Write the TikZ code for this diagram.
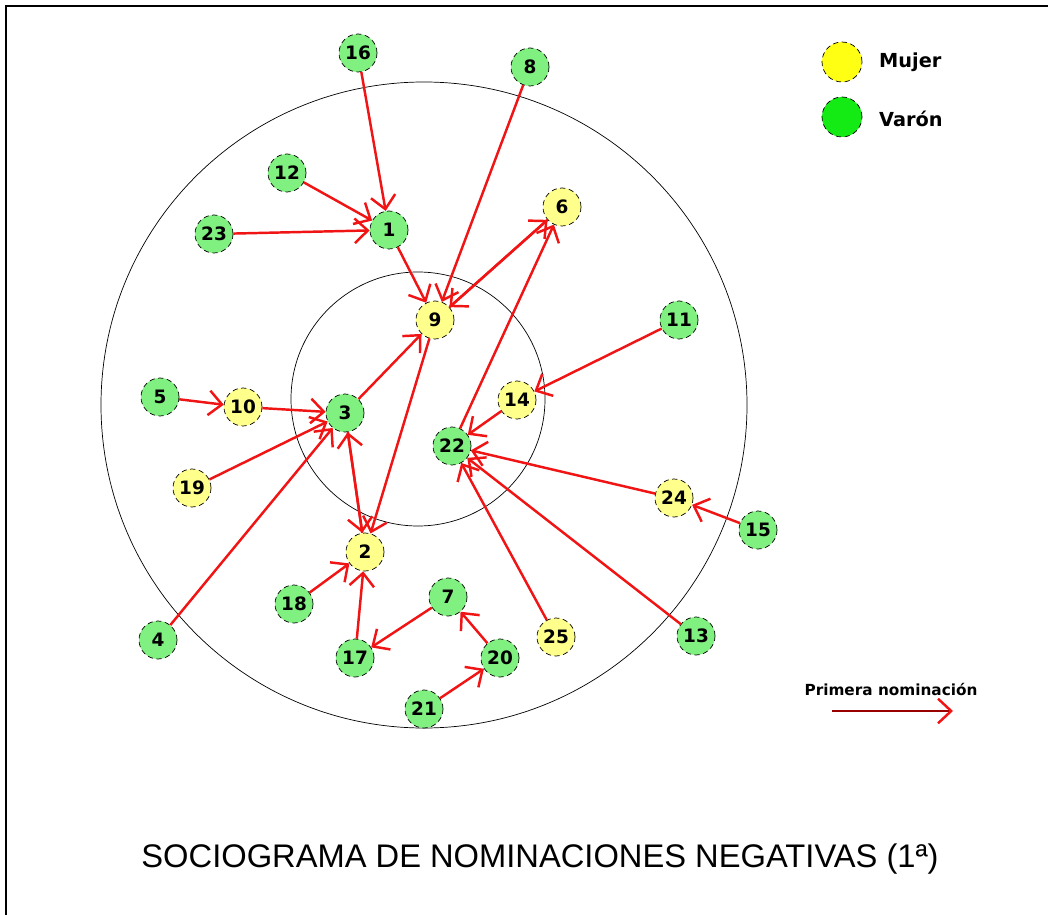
\documentclass[tikz,border=0pt]{standalone}
\usepackage{fontspec}
\setmainfont{Liberation Sans}
\newfontfamily\numfont{DejaVu Sans}
\usepackage{tikz}
\usetikzlibrary{arrows.meta, positioning}

\definecolor{varon}{RGB}{128,240,128}
\definecolor{mujer}{RGB}{255,255,140}
\definecolor{legvaron}{RGB}{20,235,20}
\definecolor{legmujer}{RGB}{255,255,20}
\definecolor{nomred}{RGB}{240,20,20}

\begin{document}
\begin{tikzpicture}[x=0.02cm,y=-0.02cm,>={Straight Barb[length=7.5pt,width=14pt]},
                    main node/.style={circle,draw,densely dashed,thin,minimum size=0.76cm,inner sep=0pt,
                                      font=\numfont\bfseries\fontsize{10.5}{12}\selectfont},
                    m node/.style={main node,fill=mujer},
                    v node/.style={main node,fill=varon},
                    nom/.style={->,draw=nomred,line width=1.4pt}]

  \useasboundingbox (0,0) rectangle (1048,915);
  \draw[line width=1.2pt] (6,915) -- (6,6) -- (1048,6);

  % rings
  \draw[thin] (424,405) circle [radius=323];
  \draw[thin] (418,399) circle [radius=127];

  % nodes
  \node[v node] (16) at (358,53) {16};
  \node[v node] (8) at (530,67) {8};
  \node[v node] (12) at (287,173) {12};
  \node[m node] (6) at (562,207) {6};
  \node[v node] (1) at (389,230) {1};
  \node[v node] (23) at (214,234) {23};
  \node[m node] (9) at (435,320) {9};
  \node[v node] (11) at (679,320) {11};
  \node[v node] (5) at (160,397) {5};
  \node[m node] (10) at (243,407) {10};
  \node[m node] (14) at (517,400) {14};
  \node[v node] (3) at (345,413) {3};
  \node[v node] (22) at (452,446) {22};
  \node[m node] (19) at (192,488) {19};
  \node[m node] (24) at (674,498) {24};
  \node[v node] (15) at (758,530) {15};
  \node[m node] (2) at (365,552) {2};
  \node[v node] (18) at (294,604) {18};
  \node[v node] (7) at (448,597) {7};
  \node[v node] (4) at (158,640) {4};
  \node[m node] (25) at (556,637) {25};
  \node[v node] (13) at (696,636) {13};
  \node[v node] (17) at (355,658) {17};
  \node[v node] (20) at (500,658) {20};
  \node[v node] (21) at (424,709) {21};

  % nominations
  \draw[nom] (16) to (1);
  \draw[nom] (12) to (1);
  \draw[nom] (23) to (1);
  \draw[nom] (1) to (9);
  \draw[nom] (8) to (9);
  \draw[nom] (6) to (9);
  \draw[nom] (9) to (6);
  \draw[nom] (22) to (6);
  \draw[nom] (3) to (9);
  \draw[nom] (9) to (2);
  \draw[nom] (3) to (2);
  \draw[nom] (2) to (3);
  \draw[nom] (5) to (10);
  \draw[nom] (10) to (3);
  \draw[nom] (19) to (3);
  \draw[nom] (4) to (3);
  \draw[nom] (11) to (14);
  \draw[nom] (14) to (22);
  \draw[nom] (24) to (22);
  \draw[nom] (13) to (22);
  \draw[nom] (25) to (22);
  \draw[nom] (15) to (24);
  \draw[nom] (18) to (2);
  \draw[nom] (17) to (2);
  \draw[nom] (7) to (17);
  \draw[nom] (20) to (7);
  \draw[nom] (21) to (20);

  % legend
  \node[circle,draw,densely dashed,thin,minimum size=0.8cm,fill=legmujer] (lm) at (842,62) {};
  \node[circle,draw,densely dashed,thin,minimum size=0.8cm,fill=legvaron] (lv) at (842,117) {};
  \node[anchor=west,font=\numfont\bfseries\fontsize{11}{13}\selectfont] (tm) at (873,62) {Mujer};
  \node[anchor=west,font=\numfont\bfseries\fontsize{11}{13}\selectfont] (tv) at (873,119) {Varón};
  \node[font=\numfont\bfseries\fontsize{8.7}{10}\selectfont] (pn) at (891,689) {Primera nominación};
  \coordinate (a1) at (832,711);
  \coordinate (a2) at (953,711);
  \draw[->,draw=red!60!black,line width=1.4pt,-{Straight Barb[length=7.5pt,width=14pt,color=nomred]}] (a1) -- (a2);

  \node[font=\fontsize{18.6}{21}\selectfont] (title) at (540,859) {SOCIOGRAMA DE NOMINACIONES NEGATIVAS (1ª)};

\end{tikzpicture}
\end{document}
